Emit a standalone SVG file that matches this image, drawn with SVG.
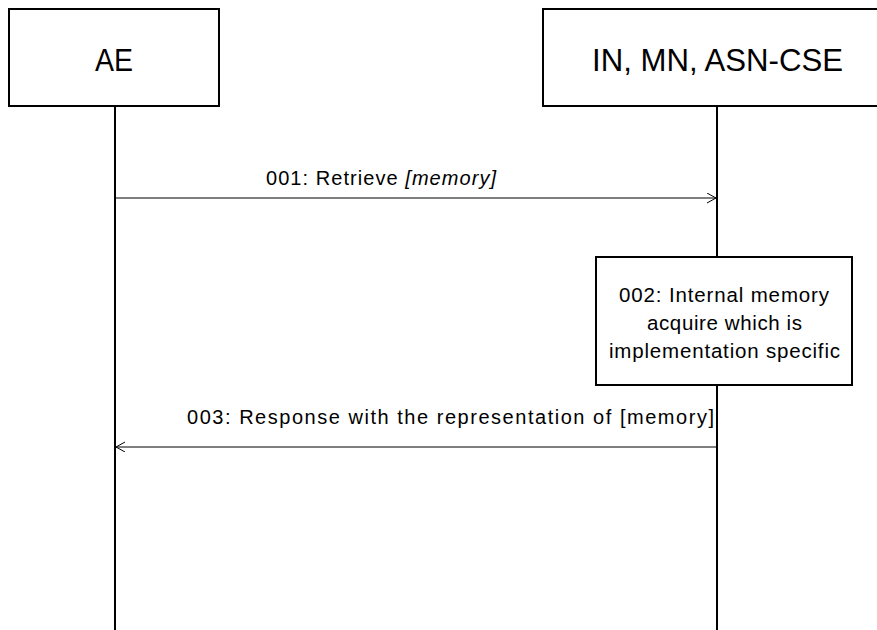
<svg xmlns="http://www.w3.org/2000/svg" width="877" height="630" viewBox="0 0 877 630">
<style>
.box{fill:#fff;stroke:#000;stroke-width:2}
.life{stroke:#000;stroke-width:2;fill:none}
.msg{stroke:#000;stroke-width:1;fill:none}
text{font-family:"Liberation Sans",Arial,sans-serif;fill:#000}
.big{font-size:31px}
.lbl{font-size:20px}
.note{font-size:20.5px}
</style>
<defs>
<marker id="open" markerWidth="12" markerHeight="12" refX="10" refY="5" orient="auto" markerUnits="userSpaceOnUse">
<path d="M1,0 L10,5 L1,10" fill="none" stroke="#000" stroke-width="1"/>
</marker>
</defs>
<g id="lifelines">
<line class="life" x1="115" y1="106" x2="115" y2="630"/>
<line class="life" x1="717" y1="106" x2="717" y2="630"/>
</g>
<g id="node-ae">
<rect class="box" x="9" y="9" width="210" height="97"/>
<text class="big" x="95" y="71" textLength="38" lengthAdjust="spacingAndGlyphs">AE</text>
</g>
<g id="node-cse">
<rect class="box" x="543" y="9" width="340" height="97"/>
<text class="big" x="592" y="71" textLength="251" lengthAdjust="spacingAndGlyphs">IN, MN, ASN-CSE</text>
</g>
<g id="connectors">
<line class="msg" x1="115" y1="198" x2="716" y2="198" marker-end="url(#open)"/>
<line class="msg" x1="716" y1="447" x2="116" y2="447" marker-end="url(#open)"/>
</g>
<g id="labels">
<text class="lbl" x="266" y="185" textLength="230">001: Retrieve <tspan font-style="italic">[memory]</tspan></text>
<text class="lbl" x="187" y="424" textLength="527">003: Response with the representation of [memory]</text>
</g>
<g id="node-002">
<rect class="box" x="596" y="257" width="256" height="128"/>
<text class="note" x="619" y="302" textLength="210">002: Internal memory</text>
<text class="note" x="647" y="330" textLength="155">acquire which is</text>
<text class="note" x="609" y="358" textLength="231">implementation specific</text>
</g>
</svg>
